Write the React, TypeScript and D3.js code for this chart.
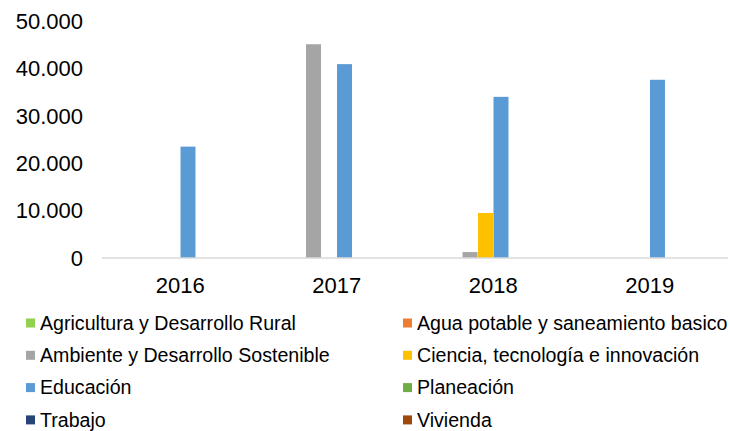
import { FC, useEffect, useRef } from 'react'
import * as d3 from 'd3'

const years = ['2016', '2017', '2018', '2019']

const seriesNames = [
  'Agricultura y Desarrollo Rural',
  'Agua potable y saneamiento basico',
  'Ambiente y Desarrollo Sostenible',
  'Ciencia, tecnología e innovación',
  'Educación',
  'Planeación',
  'Trabajo',
  'Vivienda'
]

const seriesColors = ['#92D050', '#ED7D31', '#A5A5A5', '#FFC000', '#5B9BD5', '#70AD47', '#264478', '#9E480E']

// values per series, one per year
const agricultura = [0, 0, 0, 0]
const agua = [0, 0, 0, 0]
const ambiente = [0, 45100, 1250, 0]
const ciencia = [0, 0, 9500, 0]
const educacion = [23500, 40900, 34000, 37600]
const planeacion = [0, 0, 0, 0]
const trabajo = [0, 0, 0, 0]
const vivienda = [0, 0, 0, 0]

const yTicks = [0, 10000, 20000, 30000, 40000, 50000]

const seriesValues = [agricultura, agua, ambiente, ciencia, educacion, planeacion, trabajo, vivienda]

const width = 730
const height = 431
const margin = { top: 21, right: 2, bottom: 173, left: 102 }

const fmt = (v: number) => (v === 0 ? '0' : d3.format(',')(v).replace(/,/g, '.'))

const Chart: FC = () => {
  const svgRef = useRef<SVGSVGElement>(null)

  useEffect(() => {
    if (!svgRef.current) return
    const svg = d3.select(svgRef.current)
    svg.selectAll('*').remove()

    const font = 'Liberation Sans, Arial, sans-serif'
    const x = d3.scaleBand().domain(years).range([margin.left, width - margin.right])
    const x1 = d3.scaleBand()
      .domain(seriesNames)
      .range([0, x.bandwidth()])
      .paddingInner(0.032)
      .paddingOuter(1.07)
    const y = d3.scaleLinear().domain([0, 50000]).range([height - margin.bottom, margin.top])

    // bars
    const groups = svg.append('g')
      .selectAll('g')
      .data(years)
      .join('g')
      .attr('transform', d => `translate(${x(d)},0)`)

    groups.selectAll('rect')
      .data((d, i) => seriesNames.map((s, k) => ({ s, k, v: seriesValues[k][i] })))
      .join('rect')
      .filter(d => d.v > 0)
      .attr('x', d => x1(d.s) || 0)
      .attr('y', d => y(d.v))
      .attr('width', x1.bandwidth())
      .attr('height', d => y(0) - y(d.v))
      .attr('fill', d => seriesColors[d.k])

    // baseline
    svg.append('line')
      .attr('x1', margin.left)
      .attr('x2', width - margin.right)
      .attr('y1', y(0))
      .attr('y2', y(0))
      .attr('stroke', '#d9d9d9')
      .attr('stroke-width', 1.5)

    // y labels
    svg.append('g')
      .selectAll('text')
      .data(yTicks)
      .join('text')
      .attr('x', 83)
      .attr('y', d => y(d))
      .attr('dy', '0.35em')
      .attr('text-anchor', 'end')
      .attr('font-family', font)
      .attr('font-size', 22)
      .attr('fill', '#000')
      .text(d => fmt(d))

    // x labels
    svg.append('g')
      .selectAll('text')
      .data(years)
      .join('text')
      .attr('x', d => (x(d) || 0) + x.bandwidth() / 2)
      .attr('y', y(0) + 27)
      .attr('dy', '0.35em')
      .attr('text-anchor', 'middle')
      .attr('font-family', font)
      .attr('font-size', 22)
      .attr('fill', '#000')
      .text(d => d)

    // legend
    const legend = svg.append('g')
      .selectAll('g')
      .data(seriesNames)
      .join('g')
      .attr('transform', (d, i) => `translate(${i % 2 === 0 ? 26 : 403},${323 + Math.floor(i / 2) * 32.3})`)

    legend.append('rect')
      .attr('x', 0)
      .attr('y', -4.5)
      .attr('width', 9)
      .attr('height', 9)
      .attr('fill', (d, i) => seriesColors[i])

    legend.append('text')
      .attr('x', 14)
      .attr('y', 0)
      .attr('dy', '0.35em')
      .attr('font-family', font)
      .attr('font-size', 19.6)
      .attr('fill', '#000')
      .text(d => d)
  }, [])

  return (
    <svg
      ref={svgRef}
      width={width}
      height={height}
      style={{ position: 'absolute', left: 0, top: 0, background: '#fff' }}
    />
  )
}

export default function App() {
  return <Chart />
}
